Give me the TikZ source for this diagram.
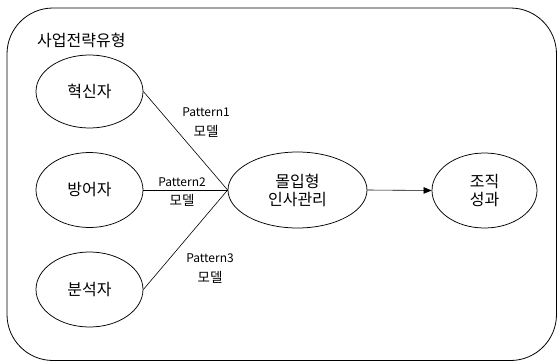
\documentclass[tikz,border=0pt]{standalone}
\usepackage{fontspec}
\setmainfont{Noto Sans CJK KR}
\usetikzlibrary{shapes.geometric,arrows.meta}
\newcommand{\kr}[1]{{\fontsize{13.5}{19.5}\selectfont #1}}
\tikzset{
  oval/.style={draw, ellipse, line width=0.75pt, inner sep=0pt, font=\fontsize{16}{19}\selectfont, align=center},
  lbl/.style={font=\fontsize{12}{19.5}\selectfont, align=center, inner sep=0pt},
  conn/.style={draw, line width=0.6pt}
}
\begin{document}
\begin{tikzpicture}[x=1pt,y=-1pt]
\useasboundingbox (0,0) rectangle (557,362);
\draw[line width=0.8pt, rounded corners=46pt] (7,8) rectangle (556.5,360.5);
\node[anchor=west, font=\fontsize{16}{19}\selectfont, inner sep=0pt] (title) at (37,40) {사업전략유형};
\node[oval, minimum width=107pt, minimum height=73pt] (a) at (89.5,91.5) {혁신자};
\node[oval, minimum width=107pt, minimum height=75pt] (b) at (89.5,190) {방어자};
\node[oval, minimum width=107pt, minimum height=75pt] (c) at (89.5,289.5) {분석자};
\node[oval, minimum width=139pt, minimum height=76pt] (m) at (297.5,190) {몰입형\\[-1pt]인사관리};
\node[oval, minimum width=105pt, minimum height=75pt] (o) at (484.5,190.5) {조직\\[-1pt]성과};
\draw[conn] (a.east) -- (m.west);
\draw[conn] (b.east) -- (m.west);
\draw[conn] (c.east) -- (m.west);
\draw[conn, -{Triangle[length=8pt,width=6.5pt]}] (m.east) -- (o.west);
\node[lbl] (l1) at (206,122.5) {Pattern1\\\kr{모델}};
\node[lbl] (l2) at (182,192) {Pattern2\\\kr{모델}};
\node[lbl] (l3) at (210,268.5) {Pattern3\\\kr{모델}};
\end{tikzpicture}
\end{document}
